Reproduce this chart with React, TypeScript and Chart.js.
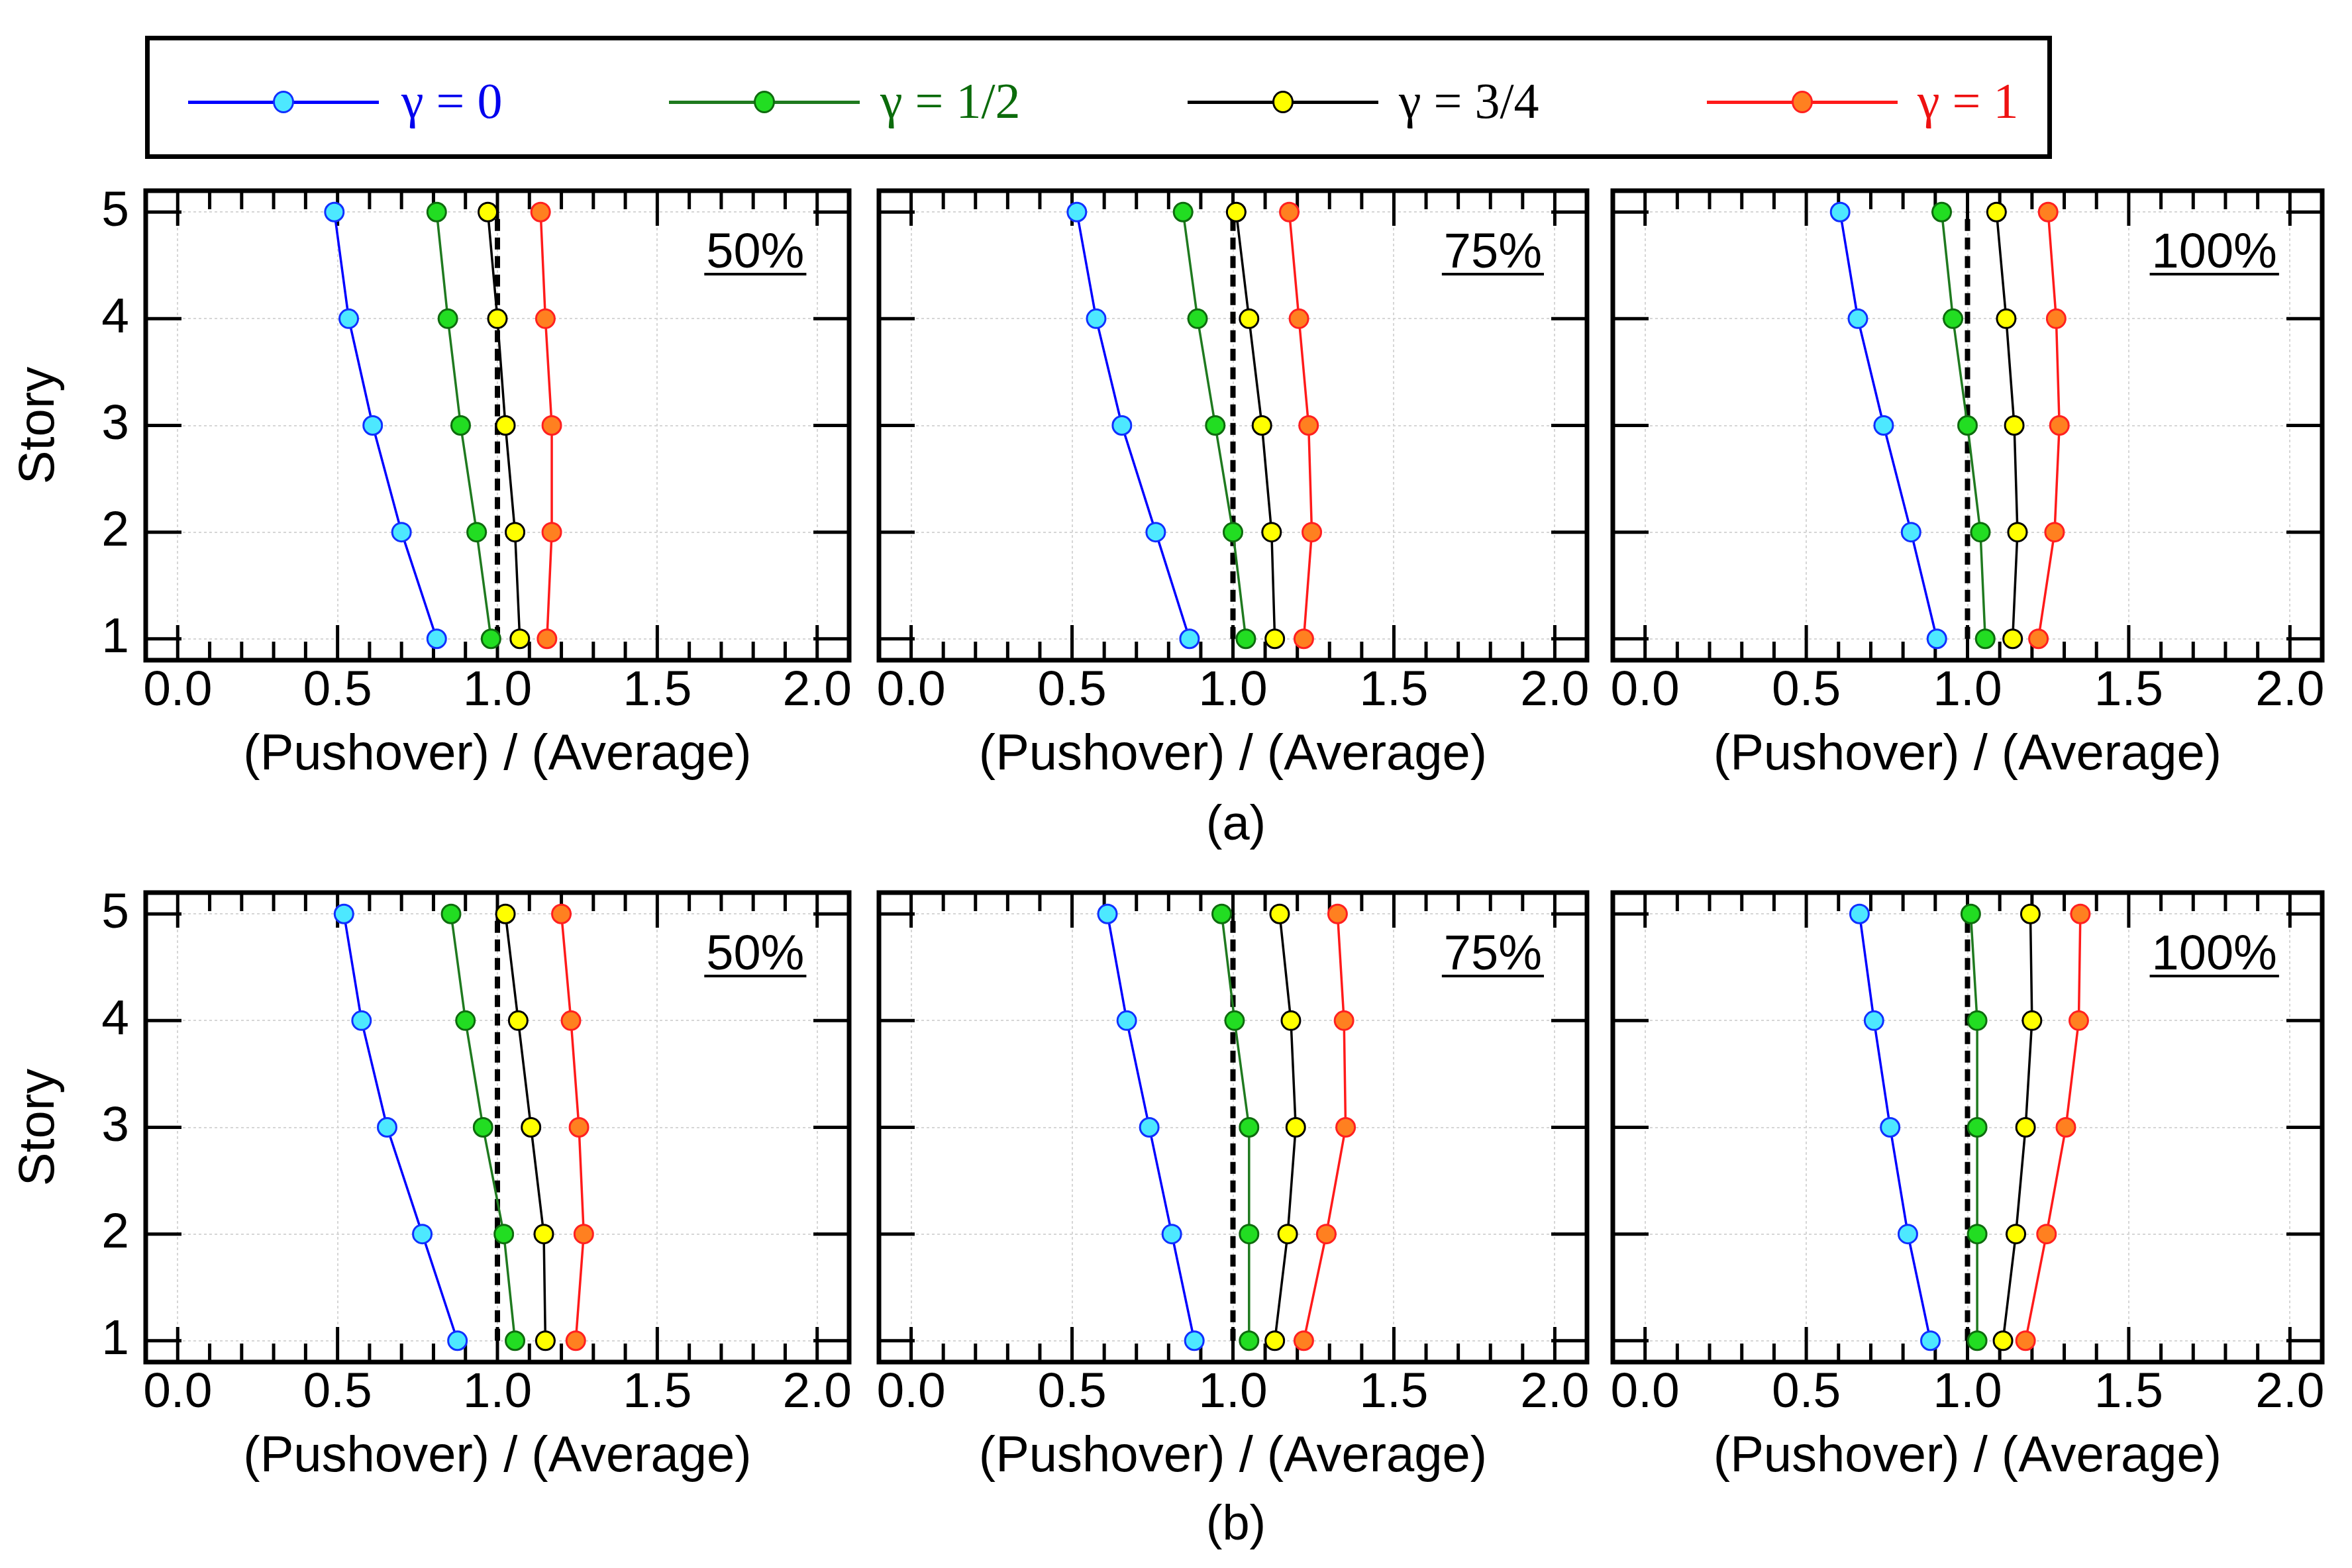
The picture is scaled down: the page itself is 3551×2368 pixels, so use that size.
import { useEffect, useRef } from "react"
import { Chart, registerables } from "chart.js"

Chart.register(...registerables)

const sans = '"Liberation Sans", Arial, Helvetica, sans-serif'
const serif = '"Liberation Serif", "Times New Roman", serif'
Chart.defaults.font.family = sans
Chart.defaults.color = "#000"

// story levels and tick values
const stories = [1, 2, 3, 4, 5]
const xTicks = [0, 0.5, 1, 1.5, 2]
const xMinorTicks = [0.1, 0.2, 0.3, 0.4, 0.6, 0.7, 0.8, 0.9, 1.1, 1.2, 1.3, 1.4, 1.6, 1.7, 1.8, 1.9]

// dashed reference line (ratio = 1)
const refX = [1, 1]
const refStory = [1, 5]

const gammaLabels = ["γ = 0", "γ = 1/2", "γ = 3/4", "γ = 1"]

// values per panel, one row per gamma (0, 1/2, 3/4, 1), story 1 -> 5
const a50 = [
  [0.81, 0.7, 0.61, 0.535, 0.49],
  [0.98, 0.935, 0.885, 0.845, 0.81],
  [1.07, 1.055, 1.025, 1.0, 0.97],
  [1.155, 1.17, 1.17, 1.15, 1.135],
]
const a75 = [
  [0.865, 0.76, 0.655, 0.575, 0.515],
  [1.04, 1.0, 0.945, 0.89, 0.845],
  [1.13, 1.12, 1.09, 1.05, 1.01],
  [1.22, 1.245, 1.235, 1.205, 1.175],
]
const a100 = [
  [0.905, 0.825, 0.74, 0.66, 0.605],
  [1.055, 1.04, 1.0, 0.955, 0.92],
  [1.14, 1.155, 1.145, 1.12, 1.09],
  [1.22, 1.27, 1.285, 1.275, 1.25],
]
const b50 = [
  [0.875, 0.765, 0.655, 0.575, 0.52],
  [1.055, 1.02, 0.955, 0.9, 0.855],
  [1.15, 1.145, 1.105, 1.065, 1.025],
  [1.245, 1.27, 1.255, 1.23, 1.2],
]
const b75 = [
  [0.88, 0.81, 0.74, 0.67, 0.61],
  [1.05, 1.05, 1.05, 1.005, 0.965],
  [1.13, 1.17, 1.195, 1.18, 1.145],
  [1.22, 1.29, 1.35, 1.345, 1.325],
]
const b100 = [
  [0.885, 0.815, 0.76, 0.71, 0.665],
  [1.03, 1.03, 1.03, 1.03, 1.01],
  [1.11, 1.15, 1.18, 1.2, 1.195],
  [1.18, 1.245, 1.305, 1.345, 1.35],
]

const series = [
  { line: "#0000ff", fill: "#4de8ff", edge: "#1030ff", text: "#0000ee" },
  { line: "#1f7a1f", fill: "#22dd22", edge: "#0e6b0e", text: "#0b6b0b" },
  { line: "#000000", fill: "#ffff00", edge: "#000000", text: "#000000" },
  { line: "#ff1a1a", fill: "#ff8020", edge: "#ff2020", text: "#ee1111" },
]

// page layout
const panelLeft = [220, 1327, 2435]
const panelWidth = [1062, 1069, 1071]
const rowTop = [288, 1348]
const panelHeight = 709
const padTop = 20
const padRight = 20
const xAxisHeight = 192

const legendLineStart = [284, 1010, 1793, 2577]
const legendTextStart = [606, 1329, 2112, 2895]

const panelFrame = {
  id: "panelFrame",
  beforeDatasetsDraw(chart: any) {
    const { ctx, chartArea: a } = chart
    const x = chart.scales.x
    const y = chart.scales.y
    const seg = (x1: number, y1: number, x2: number, y2: number) => {
      ctx.beginPath()
      ctx.moveTo(x1, y1)
      ctx.lineTo(x2, y2)
      ctx.stroke()
    }
    ctx.save()
    ctx.strokeStyle = "#000"
    ctx.lineCap = "butt"
    ctx.lineWidth = 5
    xMinorTicks.forEach((v) => {
      const p = x.getPixelForValue(v)
      seg(p, a.top, p, a.top + 28)
      seg(p, a.bottom, p, a.bottom - 28)
    })
    xTicks.forEach((v) => {
      const p = x.getPixelForValue(v)
      seg(p, a.top, p, a.top + 53)
      seg(p, a.bottom, p, a.bottom - 53)
    })
    stories.forEach((v) => {
      const p = y.getPixelForValue(v)
      seg(a.left, p, a.left + 54, p)
      seg(a.right, p, a.right - 54, p)
    })
    ctx.lineWidth = 7
    ctx.strokeRect(a.left, a.top, a.right - a.left, a.bottom - a.top)
    ctx.restore()
  },
  afterDatasetsDraw(chart: any, _args: any, opts: any) {
    const { ctx } = chart
    const x = chart.scales.x
    const y = chart.scales.y
    ctx.save()
    ctx.fillStyle = "#000"
    ctx.strokeStyle = "#000"
    ctx.font = `74px ${sans}`
    ctx.textAlign = "right"
    ctx.textBaseline = "alphabetic"
    const tx = x.getPixelForValue(1.96)
    const ty = y.getPixelForValue(4.48)
    ctx.fillText(opts.label, tx, ty)
    const w = ctx.measureText(opts.label).width
    ctx.lineWidth = 4
    ctx.beginPath()
    ctx.moveTo(tx - w - 3, ty + 10)
    ctx.lineTo(tx + 3, ty + 10)
    ctx.stroke()
    ctx.restore()
  },
}

function Panel({ values, label, col, row }: { values: number[][]; label: string; col: number; row: number }) {
  const canvasRef = useRef<HTMLCanvasElement>(null)
  const yAxisWidth = col === 0 ? 220 : 20
  const width = yAxisWidth + panelWidth[col] + padRight
  const height = padTop + panelHeight + xAxisHeight
  const left = panelLeft[col] - yAxisWidth
  const top = rowTop[row] - padTop

  useEffect(() => {
    if (!canvasRef.current) return
    const datasets: any[] = values.map((vals, i) => ({
      label: gammaLabels[i],
      data: stories.map((s, k) => ({ x: vals[k], y: s })),
      borderColor: series[i].line,
      borderWidth: 3.5,
      pointRadius: 14,
      pointBorderWidth: 3,
      pointBackgroundColor: series[i].fill,
      pointBorderColor: series[i].edge,
      tension: 0,
      fill: false,
      order: 1,
    }))
    datasets.push({
      label: "ref",
      data: refStory.map((s, k) => ({ x: refX[k], y: s })),
      borderColor: "#000",
      borderWidth: 8,
      borderDash: [18, 10],
      pointRadius: 0,
      fill: false,
      order: 10,
    })

    const chart = new Chart(canvasRef.current, {
      type: "line",
      data: { datasets },
      plugins: [panelFrame],
      options: {
        animation: false,
        responsive: false,
        events: [],
        layout: { padding: { top: padTop, right: padRight, left: 0, bottom: 0 } },
        plugins: {
          legend: { display: false },
          tooltip: { enabled: false },
          panelFrame: { label },
        } as any,
        scales: {
          x: {
            type: "linear",
            position: "bottom",
            min: -0.1,
            max: 2.1,
            afterBuildTicks: (s: any) => {
              s.ticks = xTicks.map((v) => ({ value: v }))
            },
            afterFit: (s: any) => {
              s.height = xAxisHeight
              s.paddingLeft = 0
              s.paddingRight = 0
            },
            grid: { color: "#d6d6d6", lineWidth: 2, drawTicks: false },
            border: { display: false, dash: [4, 4] },
            ticks: {
              font: { size: 75 },
              color: "#000",
              padding: 2,
              maxRotation: 0,
              autoSkip: false,
              callback: (v: any) => Number(v).toFixed(1),
            },
            title: {
              display: true,
              text: "(Pushover) / (Average)",
              font: { size: 76 },
              color: "#000",
              padding: { top: 0, bottom: 2 },
            },
          },
          y: {
            type: "linear",
            position: "left",
            min: 0.8,
            max: 5.2,
            afterBuildTicks: (s: any) => {
              s.ticks = stories.map((v) => ({ value: v }))
            },
            afterFit: (s: any) => {
              s.width = yAxisWidth
              s.paddingTop = 0
              s.paddingBottom = 0
            },
            grid: { color: "#d6d6d6", lineWidth: 2, drawTicks: false },
            border: { display: false, dash: [4, 4] },
            ticks: {
              display: col === 0,
              font: { size: 75 },
              color: "#000",
              padding: 25,
              autoSkip: false,
              callback: (v: any) => String(v),
            },
            title: {
              display: col === 0,
              text: "Story",
              font: { size: 76 },
              color: "#000",
              padding: { top: 14, bottom: 0 },
            },
          },
        },
      } as any,
    })
    return () => chart.destroy()
  }, [])

  return (
    <canvas
      ref={canvasRef}
      width={width}
      height={height}
      style={{ position: "absolute", left, top, width, height }}
    />
  )
}

function Legend() {
  const cy = 154
  return (
    <>
      <div
        style={{
          position: "absolute",
          left: 219,
          top: 54,
          width: 3098 - 219,
          height: 186,
          border: "7px solid #000",
          boxSizing: "border-box",
        }}
      />
      {gammaLabels.map((g, i) => (
        <div key={g}>
          <div
            style={{
              position: "absolute",
              left: legendLineStart[i],
              top: cy - 2.5,
              width: 288,
              height: 5,
              background: series[i].line,
            }}
          />
          <div
            style={{
              position: "absolute",
              left: legendLineStart[i] + 144 - 16,
              top: cy - 17,
              width: 32,
              height: 34,
              borderRadius: "50%",
              background: series[i].fill,
              border: `3px solid ${series[i].edge}`,
              boxSizing: "border-box",
            }}
          />
          <div
            style={{
              position: "absolute",
              left: legendTextStart[i],
              top: cy - 47,
              height: 90,
              lineHeight: "90px",
              fontSize: 76,
              fontFamily: serif,
              color: series[i].text,
              whiteSpace: "nowrap",
            }}
          >
            {g}
          </div>
        </div>
      ))}
    </>
  )
}

function Caption({ text, y }: { text: string; y: number }) {
  return (
    <div
      style={{
        position: "absolute",
        left: 1866 - 150,
        width: 300,
        top: y - 45,
        height: 90,
        lineHeight: "90px",
        textAlign: "center",
        fontSize: 74,
        fontFamily: sans,
        color: "#000",
      }}
    >
      {text}
    </div>
  )
}

export default function App() {
  return (
    <div
      style={{
        position: "absolute",
        left: 0,
        top: 0,
        width: 3551,
        height: 2368,
        background: "#fff",
        overflow: "hidden",
      }}
    >
      <Legend />
      <Panel values={a50} label="50%" col={0} row={0} />
      <Panel values={a75} label="75%" col={1} row={0} />
      <Panel values={a100} label="100%" col={2} row={0} />
      <Caption text="(a)" y={1243} />
      <Panel values={b50} label="50%" col={0} row={1} />
      <Panel values={b75} label="75%" col={1} row={1} />
      <Panel values={b100} label="100%" col={2} row={1} />
      <Caption text="(b)" y={2300} />
    </div>
  )
}
